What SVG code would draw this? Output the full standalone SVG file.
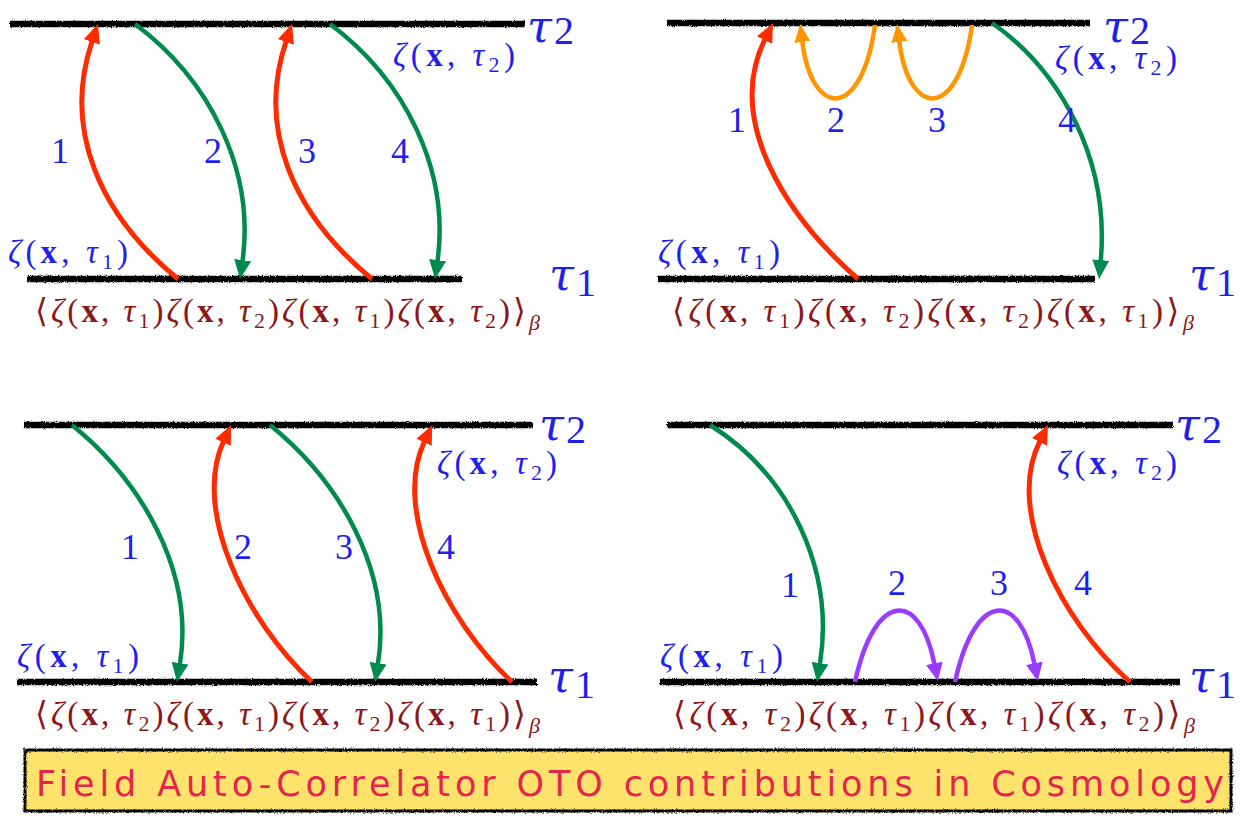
<svg xmlns="http://www.w3.org/2000/svg" width="1260" height="817" viewBox="0 0 1260 817">
<defs>
<filter id="rough" filterUnits="userSpaceOnUse" x="0" y="0" width="1260" height="817">
<feTurbulence type="fractalNoise" baseFrequency="0.9" numOctaves="2" seed="3" result="n"/>
<feDisplacementMap in="SourceGraphic" in2="n" scale="3" xChannelSelector="R" yChannelSelector="G"/>
</filter>
<marker id="hr" markerUnits="userSpaceOnUse" markerWidth="19" markerHeight="17" refX="1" refY="8.5" orient="auto" viewBox="0 0 19 17"><path d="M0,0 L19,8.5 L0,17 z" fill="#FF2B00"/></marker>
<marker id="hg" markerUnits="userSpaceOnUse" markerWidth="19" markerHeight="17" refX="1" refY="8.5" orient="auto" viewBox="0 0 19 17"><path d="M0,0 L19,8.5 L0,17 z" fill="#008A4E"/></marker>
<marker id="ho" markerUnits="userSpaceOnUse" markerWidth="18" markerHeight="16" refX="1" refY="8" orient="auto" viewBox="0 0 18 16"><path d="M0,0 L18,8 L0,16 z" fill="#FF9500"/></marker>
<marker id="hp" markerUnits="userSpaceOnUse" markerWidth="18" markerHeight="17" refX="1" refY="8.5" orient="auto" viewBox="0 0 18 17"><path d="M0,0 L18,8.5 L0,17 z" fill="#9A3CFF"/></marker>
</defs>
<style>
.ln{stroke:#000;stroke-width:6.5;fill:none;filter:url(#rough)}
.ar{fill:none;stroke-width:4.5;stroke-linecap:butt}
.red{stroke:#FF2B00;stroke-width:5;marker-end:url(#hr)}
.grn{stroke:#008A4E;marker-end:url(#hg)}
.org{stroke:#FF9500;marker-end:url(#ho)}
.pur{stroke:#9A3CFF;marker-end:url(#hp)}
text{font-family:'Liberation Serif','DejaVu Serif',serif}
.lbl{fill:#1F1FEE;font-size:33px}
.fm{fill:#8B1818;font-size:33px}
.num{fill:#1F1FEE;font-size:36px;text-anchor:middle}
.i{font-style:italic}
.b{font-weight:bold}
.s{font-size:22px}
.tau{fill:#1F1FEE;font-size:45px;font-style:italic;font-family:'DejaVu Serif',serif}
.tn{font-size:40px;font-style:normal;font-family:'Liberation Serif',serif}
.ban{font-family:'DejaVu Sans',sans-serif;fill:#E3264C;font-size:35px}
</style>

<g id="lines">
<line class="ln" x1="10" y1="24" x2="525" y2="24"/>
<line class="ln" x1="27" y1="279" x2="462" y2="279"/>
<line class="ln" x1="667" y1="23" x2="1090" y2="23"/>
<line class="ln" x1="658" y1="279" x2="1095" y2="279"/>
<line class="ln" x1="24" y1="425" x2="533" y2="425"/>
<line class="ln" x1="17" y1="682" x2="537" y2="682"/>
<line class="ln" x1="667" y1="425" x2="1173" y2="425"/>
<line class="ln" x1="660" y1="682" x2="1180" y2="682"/>
</g>

<g id="connectors">
<path class="ar red" d="M178,279 C100,215 62,130 92.2,41"/>
<path class="ar grn" d="M135,24 C210,80 255,170 242.5,261.2"/>
<path class="ar red" d="M372,279 C294,215 256,130 286.2,41"/>
<path class="ar grn" d="M330,24 C405,80 450,170 437.5,261.2"/>

<path class="ar red" d="M858,279 C785,215 725,120 765,39.2"/>
<path class="ar org" d="M875,25 C862,120 812,120 802.2,40.9"/>
<path class="ar org" d="M972,25 C959,120 909,120 899.2,40.9"/>
<path class="ar grn" d="M992,23 C1060,70 1110,160 1100.7,261.1"/>

<path class="ar grn" d="M72,425 C140,480 195,570 179.9,664.2"/>
<path class="ar red" d="M312,682 C245,620 192,510 223.5,441.4"/>
<path class="ar grn" d="M270,425 C338,480 393,570 377.9,664.2"/>
<path class="ar red" d="M512,682 C445,620 392,510 424.5,441.4"/>

<path class="ar grn" d="M710,425 C790,475 835,570 819.9,664.2"/>
<path class="ar pur" d="M855,682 C875,590 920,590 934.5,664.3"/>
<path class="ar pur" d="M955,682 C975,590 1020,590 1034.5,664.3"/>
<path class="ar red" d="M1130,682 C1060,620 1005,510 1039.9,441.1"/>
</g>

<g id="panel-tl">
<text class="tau" x="527" y="42">τ<tspan class="tn" dx="2" dy="2">2</tspan></text>
<text class="tau" x="549" y="290">τ<tspan class="tn" dx="2" dy="6">1</tspan></text>
<text class="lbl" x="393" y="66" textLength="122" lengthAdjust="spacing"><tspan class="i">ζ</tspan>(<tspan class="b">x</tspan>, <tspan class="i">τ</tspan><tspan class="s" dy="6">2</tspan><tspan dy="-6">)</tspan></text>
<text class="lbl" x="8" y="263" textLength="120" lengthAdjust="spacing"><tspan class="i">ζ</tspan>(<tspan class="b">x</tspan>, <tspan class="i">τ</tspan><tspan class="s" dy="6">1</tspan><tspan dy="-6">)</tspan></text>
<text class="num" x="60" y="163">1</text>
<text class="num" x="213" y="163">2</text>
<text class="num" x="307" y="163">3</text>
<text class="num" x="400" y="163">4</text>
<text class="fm" x="35" y="322" textLength="505" lengthAdjust="spacing">⟨<tspan class="i">ζ</tspan>(<tspan class="b">x</tspan>, <tspan class="i">τ</tspan><tspan class="s" dy="6">1</tspan><tspan dy="-6">)</tspan><tspan class="i">ζ</tspan>(<tspan class="b">x</tspan>, <tspan class="i">τ</tspan><tspan class="s" dy="6">2</tspan><tspan dy="-6">)</tspan><tspan class="i">ζ</tspan>(<tspan class="b">x</tspan>, <tspan class="i">τ</tspan><tspan class="s" dy="6">1</tspan><tspan dy="-6">)</tspan><tspan class="i">ζ</tspan>(<tspan class="b">x</tspan>, <tspan class="i">τ</tspan><tspan class="s" dy="6">2</tspan><tspan dy="-6">)⟩</tspan><tspan class="s i" dy="8">β</tspan></text>
</g>

<g id="panel-tr">
<text class="tau" x="1103" y="42">τ<tspan class="tn" dx="2" dy="2">2</tspan></text>
<text class="tau" x="1189" y="290">τ<tspan class="tn" dx="2" dy="6">1</tspan></text>
<text class="lbl" x="1055" y="69" textLength="122" lengthAdjust="spacing"><tspan class="i">ζ</tspan>(<tspan class="b">x</tspan>, <tspan class="i">τ</tspan><tspan class="s" dy="6">2</tspan><tspan dy="-6">)</tspan></text>
<text class="lbl" x="658" y="263" textLength="122" lengthAdjust="spacing"><tspan class="i">ζ</tspan>(<tspan class="b">x</tspan>, <tspan class="i">τ</tspan><tspan class="s" dy="6">1</tspan><tspan dy="-6">)</tspan></text>
<text class="num" x="737" y="132">1</text>
<text class="num" x="836" y="132">2</text>
<text class="num" x="937" y="132">3</text>
<text class="num" x="1067" y="132">4</text>
<text class="fm" x="672" y="322" textLength="522" lengthAdjust="spacing">⟨<tspan class="i">ζ</tspan>(<tspan class="b">x</tspan>, <tspan class="i">τ</tspan><tspan class="s" dy="6">1</tspan><tspan dy="-6">)</tspan><tspan class="i">ζ</tspan>(<tspan class="b">x</tspan>, <tspan class="i">τ</tspan><tspan class="s" dy="6">2</tspan><tspan dy="-6">)</tspan><tspan class="i">ζ</tspan>(<tspan class="b">x</tspan>, <tspan class="i">τ</tspan><tspan class="s" dy="6">2</tspan><tspan dy="-6">)</tspan><tspan class="i">ζ</tspan>(<tspan class="b">x</tspan>, <tspan class="i">τ</tspan><tspan class="s" dy="6">1</tspan><tspan dy="-6">)⟩</tspan><tspan class="s i" dy="8">β</tspan></text>
</g>

<g id="panel-bl">
<text class="tau" x="539" y="440">τ<tspan class="tn" dx="2" dy="3">2</tspan></text>
<text class="tau" x="548" y="692">τ<tspan class="tn" dx="2" dy="6">1</tspan></text>
<text class="lbl" x="437" y="474" textLength="120" lengthAdjust="spacing"><tspan class="i">ζ</tspan>(<tspan class="b">x</tspan>, <tspan class="i">τ</tspan><tspan class="s" dy="6">2</tspan><tspan dy="-6">)</tspan></text>
<text class="lbl" x="17" y="667" textLength="122" lengthAdjust="spacing"><tspan class="i">ζ</tspan>(<tspan class="b">x</tspan>, <tspan class="i">τ</tspan><tspan class="s" dy="6">1</tspan><tspan dy="-6">)</tspan></text>
<text class="num" x="130" y="559">1</text>
<text class="num" x="243" y="559">2</text>
<text class="num" x="344" y="559">3</text>
<text class="num" x="446" y="559">4</text>
<text class="fm" x="35" y="725" textLength="505" lengthAdjust="spacing">⟨<tspan class="i">ζ</tspan>(<tspan class="b">x</tspan>, <tspan class="i">τ</tspan><tspan class="s" dy="6">2</tspan><tspan dy="-6">)</tspan><tspan class="i">ζ</tspan>(<tspan class="b">x</tspan>, <tspan class="i">τ</tspan><tspan class="s" dy="6">1</tspan><tspan dy="-6">)</tspan><tspan class="i">ζ</tspan>(<tspan class="b">x</tspan>, <tspan class="i">τ</tspan><tspan class="s" dy="6">2</tspan><tspan dy="-6">)</tspan><tspan class="i">ζ</tspan>(<tspan class="b">x</tspan>, <tspan class="i">τ</tspan><tspan class="s" dy="6">1</tspan><tspan dy="-6">)⟩</tspan><tspan class="s i" dy="8">β</tspan></text>
</g>

<g id="panel-br">
<text class="tau" x="1175" y="440">τ<tspan class="tn" dx="2" dy="3">2</tspan></text>
<text class="tau" x="1189" y="692">τ<tspan class="tn" dx="2" dy="6">1</tspan></text>
<text class="lbl" x="1057" y="474" textLength="120" lengthAdjust="spacing"><tspan class="i">ζ</tspan>(<tspan class="b">x</tspan>, <tspan class="i">τ</tspan><tspan class="s" dy="6">2</tspan><tspan dy="-6">)</tspan></text>
<text class="lbl" x="660" y="667" textLength="123" lengthAdjust="spacing"><tspan class="i">ζ</tspan>(<tspan class="b">x</tspan>, <tspan class="i">τ</tspan><tspan class="s" dy="6">1</tspan><tspan dy="-6">)</tspan></text>
<text class="num" x="790" y="597">1</text>
<text class="num" x="897" y="595">2</text>
<text class="num" x="999" y="595">3</text>
<text class="num" x="1083" y="595">4</text>
<text class="fm" x="673" y="725" textLength="522" lengthAdjust="spacing">⟨<tspan class="i">ζ</tspan>(<tspan class="b">x</tspan>, <tspan class="i">τ</tspan><tspan class="s" dy="6">2</tspan><tspan dy="-6">)</tspan><tspan class="i">ζ</tspan>(<tspan class="b">x</tspan>, <tspan class="i">τ</tspan><tspan class="s" dy="6">1</tspan><tspan dy="-6">)</tspan><tspan class="i">ζ</tspan>(<tspan class="b">x</tspan>, <tspan class="i">τ</tspan><tspan class="s" dy="6">1</tspan><tspan dy="-6">)</tspan><tspan class="i">ζ</tspan>(<tspan class="b">x</tspan>, <tspan class="i">τ</tspan><tspan class="s" dy="6">2</tspan><tspan dy="-6">)⟩</tspan><tspan class="s i" dy="8">β</tspan></text>
</g>

<g id="banner">
<rect x="25" y="750" width="1206" height="61" fill="#FDE26C" stroke="#000" stroke-width="3" filter="url(#rough)"/>
<text class="ban" x="36" y="796" textLength="1188" lengthAdjust="spacing">Field Auto-Correlator OTO contributions in Cosmology</text>
</g>
</svg>
